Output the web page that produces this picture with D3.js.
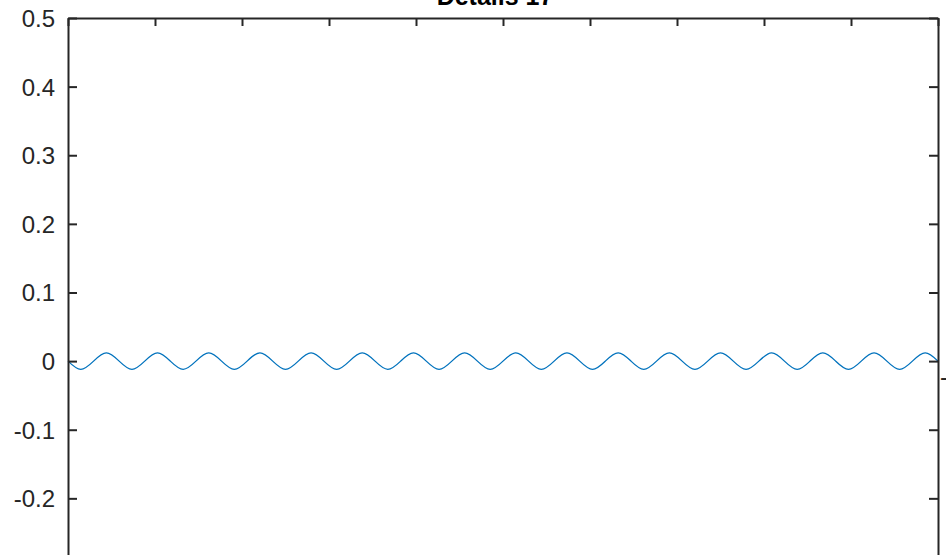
<!DOCTYPE html>
<html>
<head>
<meta charset="utf-8">
<script src="https://cdn.jsdelivr.net/npm/d3@7"></script>
<style>
  html, body { margin: 0; padding: 0; background: #fff; overflow: hidden; }
  svg { display: block; font-family: "Liberation Sans", Arial, sans-serif; }
</style>
</head>
<body>
<svg id="chart"></svg>
<script>
// title and axis ticks
const titleText = 'Details 17';
const yTicks = [0.5, 0.4, 0.3, 0.2, 0.1, 0, -0.1, -0.2, -0.3];
const yLabels = ['0.5', '0.4', '0.3', '0.2', '0.1', '0', '-0.1', '-0.2', ''];
const xTicks = [0, 1, 2, 3, 4, 5, 6, 7, 8, 9, 10];

// wave samples, read at quarter periods (17 periods across the axis)
const waveX = [0, 0.147, 0.294, 0.441, 0.588, 0.735, 0.882, 1.029, 1.176, 1.324,
  1.471, 1.618, 1.765, 1.912, 2.059, 2.206, 2.353, 2.5, 2.647, 2.794,
  2.941, 3.088, 3.235, 3.382, 3.529, 3.676, 3.824, 3.971, 4.118, 4.265,
  4.412, 4.559, 4.706, 4.853, 5.0, 5.147, 5.294, 5.441, 5.588, 5.735,
  5.882, 6.029, 6.176, 6.324, 6.471, 6.618, 6.765, 6.912, 7.059, 7.206,
  7.353, 7.5, 7.647, 7.794, 7.941, 8.088, 8.235, 8.382, 8.529, 8.676,
  8.824, 8.971, 9.118, 9.265, 9.412, 9.559, 9.706, 9.853, 10.0];
const waveY = [0, -0.012, 0, 0.012, 0, -0.012, 0, 0.012, 0, -0.012,
  0, 0.012, 0, -0.012, 0, 0.012, 0, -0.012, 0, 0.012,
  0, -0.012, 0, 0.012, 0, -0.012, 0, 0.012, 0, -0.012,
  0, 0.012, 0, -0.012, 0, 0.012, 0, -0.012, 0, 0.012,
  0, -0.012, 0, 0.012, 0, -0.012, 0, 0.012, 0, -0.012,
  0, 0.012, 0, -0.012, 0, 0.012, 0, -0.012, 0, 0.012,
  0, -0.012, 0, 0.012, 0, -0.012, 0, 0.012, 0];

// svg size
const width = 946, height = 555;
const padLeft = 68, padRight = 938, padTop = 18;
const axisColor = '#262626';

const svg = d3.select('#chart').attr('width', width).attr('height', height);

const xScale = d3.scaleLinear().domain([0, 10]).range([padLeft, padRight]);
const yScale = d3.scaleLinear().domain([-0.3, 0.5]).range([padTop + 8 * 68.62, padTop]);
const padBottom = yScale(-0.3);

// the wave
const pts = waveX.map((x, i) => [x, waveY[i]]);
svg.append('path')
  .datum(pts)
  .attr('fill', 'none')
  .attr('stroke', '#0072BD')
  .attr('stroke-width', 1.3)
  .attr('d', d3.line()
    .x(d => xScale(d[0]))
    .y(d => yScale(d[1]))
    .curve(d3.curveNatural));

// axes, ticks pointing inward like matlab
const tickLen = 9;
const leftAxis = d3.axisLeft(yScale).tickValues(yTicks).tickSizeInner(-tickLen).tickSizeOuter(0)
  .tickPadding(13).tickFormat((d, i) => yLabels[i]);
const rightAxis = d3.axisRight(yScale).tickValues(yTicks).tickSizeInner(-tickLen).tickSizeOuter(0)
  .tickFormat('');
const topAxis = d3.axisTop(xScale).tickValues(xTicks).tickSizeInner(-8).tickSizeOuter(0).tickFormat('');
const bottomAxis = d3.axisBottom(xScale).tickValues(xTicks).tickSizeInner(-8).tickSizeOuter(0).tickFormat('');

function styleAxis(g) {
  g.select('.domain').attr('stroke', axisColor).attr('stroke-width', 2);
  g.selectAll('.tick line').attr('stroke', axisColor).attr('stroke-width', 2);
  g.selectAll('.tick text')
    .attr('fill', axisColor)
    .style('font-size', '24px');
}

svg.append('g').attr('transform', `translate(${padLeft},0)`).call(leftAxis).call(styleAxis)
  .selectAll('.tick text').attr('dy', '0.35em');
svg.append('g').attr('transform', `translate(${padRight},0)`).call(rightAxis).call(styleAxis);
svg.append('g').attr('transform', `translate(0,${padTop})`).call(topAxis).call(styleAxis);
svg.append('g').attr('transform', `translate(0,${padBottom})`).call(bottomAxis).call(styleAxis);

// leftover minus sign of a label beside the right edge
svg.append('text')
  .attr('x', padRight + 2)
  .attr('y', yScale(-0.0235) + 7.5)
  .attr('fill', axisColor)
  .style('font-size', '24px')
  .text('-');

// title, mostly cut off at the top
svg.append('text')
  .attr('x', 495)
  .attr('y', 5)
  .attr('text-anchor', 'middle')
  .attr('fill', '#000')
  .style('font-size', '25px')
  .style('font-weight', 'bold')
  .text(titleText);
</script>
</body>
</html>
